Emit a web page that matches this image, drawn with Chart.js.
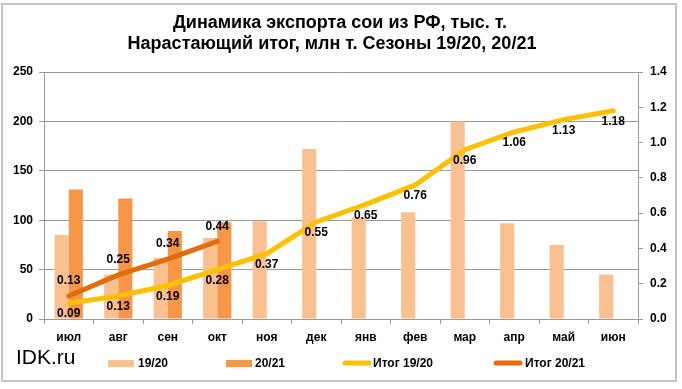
<!DOCTYPE html>
<html>
<head>
<meta charset="utf-8">
<script src="https://cdn.jsdelivr.net/npm/chart.js@4.4.1/dist/chart.umd.min.js"></script>
<style>
html,body{margin:0;padding:0;background:#fff;}
#wrap{width:682px;height:389px;position:relative;}
</style>
</head>
<body>
<div id="wrap"><canvas id="c" width="682" height="389"></canvas></div>
<script>
const months = ['июл','авг','сен','окт','ноя','дек','янв','фев','мар','апр','май','июн'];
const export1920 = [85,45,62,82,99,172,103,108,200,97,75,45];
const export2021 = [131,122,89,98,null,null,null,null,null,null,null,null];
const total1920 = [0.09,0.13,0.19,0.28,0.37,0.55,0.65,0.76,0.96,1.06,1.13,1.18];
const total2021 = [0.13,0.25,0.34,0.44,null,null,null,null,null,null,null,null];
const leftTicks = [0,50,100,150,200,250];
const rightTicks = [0,0.2,0.4,0.6,0.8,1.0,1.2,1.4];
const titleLines = ['Динамика экспорта сои из РФ, тыс. т.','Нарастающий итог, млн т. Сезоны 19/20, 20/21'];
const seriesNames = ['19/20','20/21','Итог 19/20','Итог 20/21'];

const C_LIGHT = '#FAC090', C_DARK = '#F79646', C_GOLD = '#FFC000', C_ORANGE = '#E46C0A';
const GRID = '#9a9a9a';
const FONT = '"Liberation Sans", Arial, sans-serif';

const overlay = {
  id: 'overlay',
  beforeDraw(chart) {
    const ctx = chart.ctx;
    ctx.save();
    ctx.fillStyle = '#fff';
    ctx.fillRect(0,0,chart.width,chart.height);
    ctx.strokeStyle = '#c4c4c4';
    ctx.lineWidth = 2;
    ctx.strokeRect(2,4,674,377);
    ctx.restore();
  },
  afterDatasetsDraw(chart) {
    const ctx = chart.ctx;
    ctx.save();
    ctx.font = 'bold 12px ' + FONT;
    ctx.fillStyle = '#000';
    ctx.textAlign = 'center';
    ctx.textBaseline = 'middle';
    const x = chart.scales.x, y1 = chart.scales.y1;
    total1920.forEach((v,i) => {
      if (v == null) return;
      ctx.fillText(v.toFixed(2), x.getPixelForValue(i), y1.getPixelForValue(v) + 11);
    });
    total2021.forEach((v,i) => {
      if (v == null) return;
      ctx.fillText(v.toFixed(2), x.getPixelForValue(i), y1.getPixelForValue(v) - 15);
    });
    // title
    ctx.font = 'bold 18px ' + FONT;
    ctx.fillText(titleLines[0], 340, 23);
    ctx.fillText(titleLines[1], 332, 44);
    // IDK.ru
    ctx.font = '21px ' + FONT;
    ctx.textAlign = 'left';
    ctx.fillText('IDK.ru', 16, 358);
    // legend
    ctx.font = 'bold 12px ' + FONT;
    const ly = 363;
    ctx.fillStyle = C_LIGHT; ctx.fillRect(108, ly-3, 26, 7);
    ctx.fillStyle = C_DARK; ctx.fillRect(226, ly-3, 26, 7);
    ctx.lineCap = 'round'; ctx.lineWidth = 5;
    ctx.strokeStyle = C_GOLD; ctx.beginPath(); ctx.moveTo(345, ly); ctx.lineTo(369, ly); ctx.stroke();
    ctx.strokeStyle = C_ORANGE; ctx.beginPath(); ctx.moveTo(496, ly); ctx.lineTo(520, ly); ctx.stroke();
    ctx.fillStyle = '#000';
    ctx.fillText(seriesNames[0], 138, ly+1);
    ctx.fillText(seriesNames[1], 255, ly+1);
    ctx.fillText(seriesNames[2], 373, ly+1);
    ctx.fillText(seriesNames[3], 525, ly+1);
    ctx.restore();
  }
};

new Chart(document.getElementById('c'), {
  data: {
    labels: months,
    datasets: [
      {type:'bar', label: seriesNames[0], data: export1920, yAxisID:'y', backgroundColor:C_LIGHT, order:2, barPercentage:1, categoryPercentage:0.57},
      {type:'bar', label: seriesNames[1], data: export2021, yAxisID:'y', backgroundColor:C_DARK, order:3, barPercentage:1, categoryPercentage:0.57},
      {type:'line', label: seriesNames[2], data: total1920, yAxisID:'y1', borderColor:C_GOLD, borderWidth:5, pointRadius:0, tension:0, order:1, borderCapStyle:'round'},
      {type:'line', label: seriesNames[3], data: total2021, yAxisID:'y1', borderColor:C_ORANGE, borderWidth:5, pointRadius:0, tension:0, order:0, borderCapStyle:'round'}
    ]
  },
  options: {
    responsive:false,
    animation:false,
    devicePixelRatio:1,
    layout:{padding:{top:72,left:0,right:0,bottom:0}},
    plugins:{legend:{display:false}, title:{display:false}, tooltip:{enabled:false}},
    scales:{
      x:{
        offset:true,
        grid:{offset:true, drawOnChartArea:false, color:GRID, tickLength:5, tickColor:GRID},
        border:{color:GRID, width:1},
        ticks:{color:'#000', font:{family:FONT, size:12, weight:'bold'}, padding:6, maxRotation:0, autoSkip:false},
        afterFit(s){ s.height = 70; }
      },
      y:{
        position:'left', min:0, max:250,
        afterBuildTicks(s){ s.ticks = leftTicks.map(v=>({value:v})); },
        grid:{color:GRID, tickLength:5, tickColor:GRID},
        border:{color:GRID, width:1},
        ticks:{color:'#000', font:{family:FONT, size:12, weight:'bold'}, padding:6},
        afterFit(s){ s.width = 44; }
      },
      y1:{
        position:'right', min:0, max:1.4,
        afterBuildTicks(s){ s.ticks = rightTicks.map(v=>({value:v})); },
        grid:{drawOnChartArea:false, color:GRID, tickLength:5, tickColor:GRID},
        border:{color:GRID, width:1},
        ticks:{color:'#000', font:{family:FONT, size:12, weight:'bold'}, padding:7, callback:v=>Number(v).toFixed(1)},
        afterFit(s){ s.width = 44; }
      }
    }
  },
  plugins:[overlay]
});
</script>
</body>
</html>
